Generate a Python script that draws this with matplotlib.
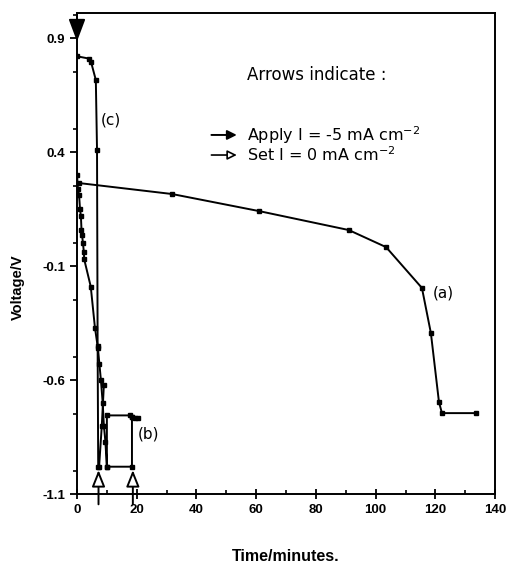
import matplotlib.pyplot as plt
from matplotlib.ticker import MultipleLocator

plt.rcParams['font.family'] = ['Liberation Sans', 'DejaVu Sans']

# curve (a)
a_t = [0.7, 31.8, 61.0, 91.0, 103.5, 115.5, 118.5, 121.2, 122.2, 133.6]
a_v = [0.264, 0.216, 0.141, 0.058, -0.017, -0.196, -0.394, -0.696, -0.745, -0.745]

# curve (b)
b_t = [0.0, 0.3, 0.7, 1.0, 1.3, 1.5, 1.7, 2.0, 2.3, 2.4, 4.6, 6.0, 7.0, 7.5, 8.0,
       8.6, 9.0, 9.5, 10.0, 18.4, 18.4, 17.8, 10.0, 10.0]
b_v = [0.30, 0.24, 0.21, 0.15, 0.12, 0.06, 0.035, 0.0, -0.04, -0.07, -0.19, -0.37,
       -0.46, -0.53, -0.60, -0.70, -0.80, -0.87, -0.98, -0.98, -0.76, -0.755, -0.755, -0.98]
b2_t = [18.4, 19.5, 20.3]
b2_v = [-0.76, -0.765, -0.765]

# curve (c)
c_t = [0.0, 4.0, 4.7, 6.3, 6.7, 6.9, 7.1, 7.4, 8.3, 9.0]
c_v = [0.82, 0.81, 0.795, 0.716, 0.41, -0.45, -0.98, -0.98, -0.80, -0.62]

apply_t = [0.0]
set_t = [7.2, 18.7]

fig = plt.figure(figsize=(5.08, 5.64), dpi=100)
ax = fig.add_axes([0.1516, 0.124, 0.823, 0.853])

kw = dict(color='black', linewidth=1.4, marker='s', markersize=2.3)
ax.plot(a_t, a_v, **kw)
ax.plot(b_t, b_v, **kw)
ax.plot(b2_t, b2_v, **kw)
ax.plot(c_t, c_v, **kw)

# arrows on the plot
for t in apply_t:
    an = ax.annotate('', xy=(t, 0.885), xytext=(t, 1.01),
                     arrowprops=dict(arrowstyle='-|>,head_length=0.4,head_width=0.15',
                                     color='black', lw=1.4,
                                     mutation_scale=34, shrinkA=0, shrinkB=0),
                     annotation_clip=False)
    an.arrow_patch.set_clip_on(False)
for t in set_t:
    an = ax.annotate('', xy=(t, -0.995), xytext=(t, -1.145),
                     arrowprops=dict(arrowstyle='-|>,head_length=0.5,head_width=0.2',
                                     color='black', lw=1.4, fc='white',
                                     mutation_scale=20, shrinkA=0, shrinkB=0),
                     annotation_clip=False)
    an.arrow_patch.set_clip_on(False)

ax.text(7.8, 0.52, '(c)', fontsize=11, family='DejaVu Sans')
ax.text(119, -0.24, '(a)', fontsize=11, family='DejaVu Sans')
ax.text(20.4, -0.855, '(b)', fontsize=11, family='DejaVu Sans')

# legend text
ax.text(57.0, 0.738, 'Arrows indicate :', fontsize=12, family='DejaVu Sans', va='center')
ax.annotate('', xy=(53.5, 0.475), xytext=(45.0, 0.475),
            arrowprops=dict(arrowstyle='-|>', color='black', lw=1.4, mutation_scale=14,
                            shrinkA=0, shrinkB=0))
ax.text(57.0, 0.475, 'Apply I = -5 mA cm$^{-2}$', fontsize=11.5, family='DejaVu Sans', va='center')
ax.annotate('', xy=(53.5, 0.387), xytext=(45.0, 0.387),
            arrowprops=dict(arrowstyle='-|>', color='black', lw=1.2, fc='white',
                            mutation_scale=14, shrinkA=0, shrinkB=0))
ax.text(57.0, 0.387, 'Set I = 0 mA cm$^{-2}$', fontsize=11.5, family='DejaVu Sans', va='center')

ax.set_xlim(0, 140)
ax.set_ylim(-1.1, 1.01)
ax.set_xticks(range(0, 141, 20))
ax.set_yticks([0.9, 0.4, -0.1, -0.6, -1.1])
ax.set_yticklabels(['0.9', '0.4', '-0.1', '-0.6', '-1.1'])
ax.xaxis.set_minor_locator(MultipleLocator(10))
ax.yaxis.set_minor_locator(MultipleLocator(0.25))
ax.tick_params(axis='x', which='major', direction='inout', length=7, width=1.3)
ax.tick_params(axis='x', which='minor', direction='in', length=3, width=1.2)
ax.tick_params(axis='y', which='major', direction='out', length=5, width=1.3)
ax.tick_params(axis='y', which='minor', direction='out', length=3, width=1.2)
for lab in ax.get_xticklabels() + ax.get_yticklabels():
    lab.set_fontweight('bold')
    lab.set_fontsize(9.5)
for s in ax.spines.values():
    s.set_linewidth(1.4)

ax.set_xlabel('Time/minutes.', fontsize=11.5, fontweight='bold')
ax.xaxis.set_label_coords(0.5, -0.115)
ax.set_ylabel('Voltage/V', fontsize=10.5, fontweight='bold')
ax.yaxis.set_label_coords(-0.125, 0.43)

fig.savefig('out.png', dpi=100)
